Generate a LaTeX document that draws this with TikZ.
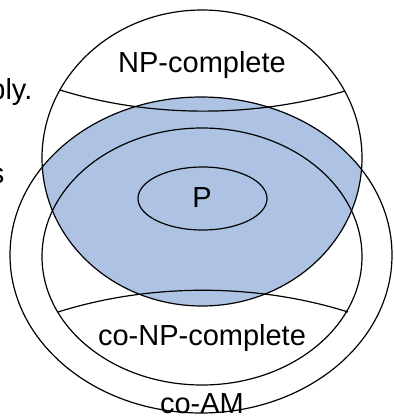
\documentclass[tikz,border=0pt]{standalone}
\usepackage{fontspec}
\setmainfont{Liberation Sans}
\usepackage{xcolor}
\usetikzlibrary{positioning}
\definecolor{npblue}{RGB}{174,195,228}

\begin{document}
\begin{tikzpicture}[x=1pt,y=-1pt,line width=1.2pt,
    lbl/.style={font=\fontsize{29}{34}\selectfont,inner sep=0pt}]
    \clip (0,0) rectangle (394,416);
    \begin{scope}
        \clip (202,158) ellipse [x radius=160pt,y radius=148pt];
        \fill[npblue] (201,255) ellipse [x radius=191pt,y radius=158pt];
    \end{scope}
    \draw (202,158) ellipse [x radius=160pt,y radius=148pt];
    \draw (201,255) ellipse [x radius=191pt,y radius=158pt];
    \draw (202,256.5) ellipse [x radius=160pt,y radius=128.5pt];
    \draw (202.5,198.5) ellipse [x radius=64.5pt,y radius=31.5pt];
    \draw (60,90) .. controls (150,118) and (254,118) .. (345,91);
    \draw (58,312) .. controls (150,283) and (256,283) .. (348,312);
    \node[lbl,anchor=base] (npc) at (202,72) {NP-complete};
    \node[lbl,anchor=base] (p) at (202,207) {P};
    \node[lbl,anchor=base] (conpc) at (202,345) {co-NP-complete};
    \node[lbl,anchor=base] (coam) at (202,413) {co-AM};
    \node[lbl,anchor=base east] (ply) at (33,99) {ply.};
    \node[lbl,anchor=base east] (s) at (5,183) {s};
\end{tikzpicture}
\end{document}
